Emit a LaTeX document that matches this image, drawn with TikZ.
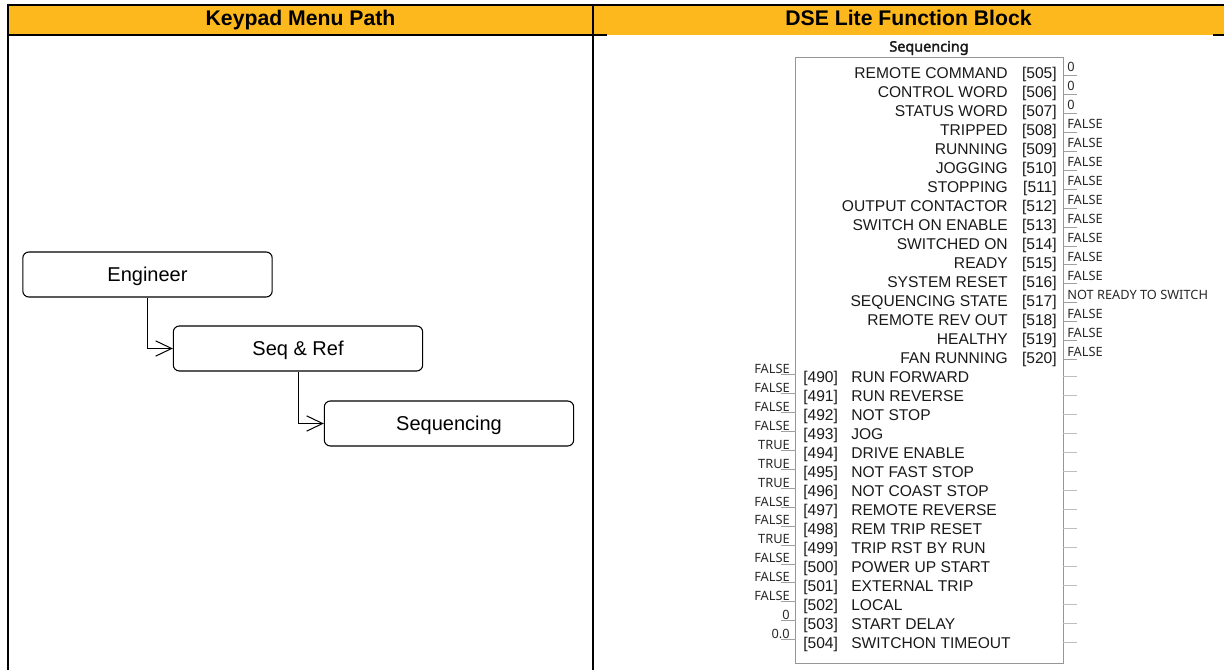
\documentclass[tikz,border=0pt]{standalone}
\usepackage{fontspec}
\setmainfont{Liberation Sans}
\newfontfamily\valfont{Noto Sans}
\newfontfamily\titlefont{Noto Sans}[FakeBold=2.2]
\usetikzlibrary{arrows.meta}
\definecolor{hdr}{RGB}{253,184,30}
\definecolor{boxgray}{RGB}{150,150,150}
\definecolor{stubgray}{RGB}{160,160,160}
\definecolor{stublight}{RGB}{190,190,190}
\definecolor{txt}{RGB}{25,25,25}
\definecolor{valtxt}{RGB}{40,40,40}
\begin{document}
\begin{tikzpicture}[x=0.75pt,y=-0.75pt,
  hdrtext/.style={font=\bfseries\fontsize{15.9}{18}\selectfont, inner sep=0, anchor=base},
  menubox/.style={draw=black, line width=0.8pt, rounded corners=4.5pt, minimum width=187pt, minimum height=33.75pt, inner sep=0, text height=10.7pt, text depth=0pt, font=\fontsize{15}{18}\selectfont},
  menuarrow/.style={draw=black, line width=0.75pt, -{Straight Barb[length=12pt,width=11.5pt]}},
  fblock/.style={draw=boxgray, line width=0.75pt},
  fbtitle/.style={font=\titlefont\fontsize{10.8}{12}\selectfont, inner sep=0, text=txt},
  lab/.style={font=\fontsize{11.7}{14}\selectfont, inner sep=0, text=txt},
  val/.style={font=\valfont\fontsize{9.6}{11}\selectfont, inner sep=0, text=valtxt},
  stub/.style={draw=stubgray, line width=0.75pt},
  stubr/.style={draw=stublight, line width=0.75pt}]
\useasboundingbox (0,0) rectangle (1224,670);
% table header
\fill[hdr] (8,5) rectangle (1224,35);
\draw[line width=1.5pt] (7,5) -- (1224,5);
\draw[line width=1.5pt] (8,4) -- (8,670);
\draw[line width=1.5pt] (593,4) -- (593,670);
\draw[line width=1.2pt] (8,35) -- (607,35);
\draw[line width=1.2pt] (1213,35) -- (1224,35);
\node[hdrtext] (h1) at (300.5,26) {Keypad Menu Path};
\node[hdrtext] (h2) at (908.5,26) {DSE Lite Function Block};
% menu path
\node[menubox] (eng) at (147.5,274.5) {Engineer};
\node[menubox] (seq) at (298,348.5) {Seq \& Ref};
\node[menubox] (sqc) at (449,423.5) {Sequencing};
\draw[menuarrow] (eng.south) |- (seq.west);
\draw[menuarrow] (seq.south) |- (sqc.west);
% function block
\node[fbtitle] (title) at (929,48) {Sequencing};
\draw[fblock] (795.5,58) rectangle (1063,663.5);
\begin{scope}
\clip (1063,0) rectangle (1213,670);
\foreach \i/\lab/\num/\val in {0/REMOTE COMMAND/505/0, 1/CONTROL WORD/506/0, 2/STATUS WORD/507/0, 3/TRIPPED/508/FALSE, 4/RUNNING/509/FALSE, 5/JOGGING/510/FALSE, 6/STOPPING/511/FALSE, 7/OUTPUT CONTACTOR/512/FALSE, 8/SWITCH ON ENABLE/513/FALSE, 9/SWITCHED ON/514/FALSE, 10/READY/515/FALSE, 11/SYSTEM RESET/516/FALSE, 12/SEQUENCING STATE/517/NOT READY TO SWITCH, 13/REMOTE REV OUT/518/FALSE, 14/HEALTHY/519/FALSE, 15/FAN RUNNING/520/FALSE}{
  \pgfmathsetmacro\ry{73.3+18.97*\i}
  \node[val, anchor=base west] (ov\num) at (1067,\ry-1.6) {\val};
  \draw[stub] (1063,\ry+2) -- (1077,\ry+2);
}
\end{scope}
\foreach \i/\lab/\num in {0/REMOTE COMMAND/505, 1/CONTROL WORD/506, 2/STATUS WORD/507, 3/TRIPPED/508, 4/RUNNING/509, 5/JOGGING/510, 6/STOPPING/511, 7/OUTPUT CONTACTOR/512, 8/SWITCH ON ENABLE/513, 9/SWITCHED ON/514, 10/READY/515, 11/SYSTEM RESET/516, 12/SEQUENCING STATE/517, 13/REMOTE REV OUT/518, 14/HEALTHY/519, 15/FAN RUNNING/520}{
  \pgfmathsetmacro\ry{73.3+18.97*\i}
  \node[lab, anchor=base east] (ol\num) at (1008,\ry+5.6) {\lab};
  \node[lab, anchor=base east] (on\num) at (1057,\ry+5.6) {[\num]};
}
\foreach \i/\lab/\num/\val in {16/RUN FORWARD/490/FALSE, 17/RUN REVERSE/491/FALSE, 18/NOT STOP/492/FALSE, 19/JOG/493/FALSE, 20/DRIVE ENABLE/494/TRUE, 21/NOT FAST STOP/495/TRUE, 22/NOT COAST STOP/496/TRUE, 23/REMOTE REVERSE/497/FALSE, 24/REM TRIP RESET/498/FALSE, 25/TRIP RST BY RUN/499/TRUE, 26/POWER UP START/500/FALSE, 27/EXTERNAL TRIP/501/FALSE, 28/LOCAL/502/FALSE, 29/START DELAY/503/0, 30/SWITCHON TIMEOUT/504/0.0}{
  \pgfmathsetmacro\ry{73.3+18.97*\i}
  \node[val, anchor=base east] (iv\num) at (790,\ry-3.6) {\val};
  \draw[stub] (781,\ry-2.5) -- (795.5,\ry-2.5);
  \node[lab, anchor=base west] (in\num) at (803,\ry+5.6) {[\num]};
  \node[lab, anchor=base west] (il\num) at (851,\ry+5.6) {\lab};
  \draw[stubr] (1063,\ry) -- (1077,\ry);
}
\end{tikzpicture}
\end{document}
